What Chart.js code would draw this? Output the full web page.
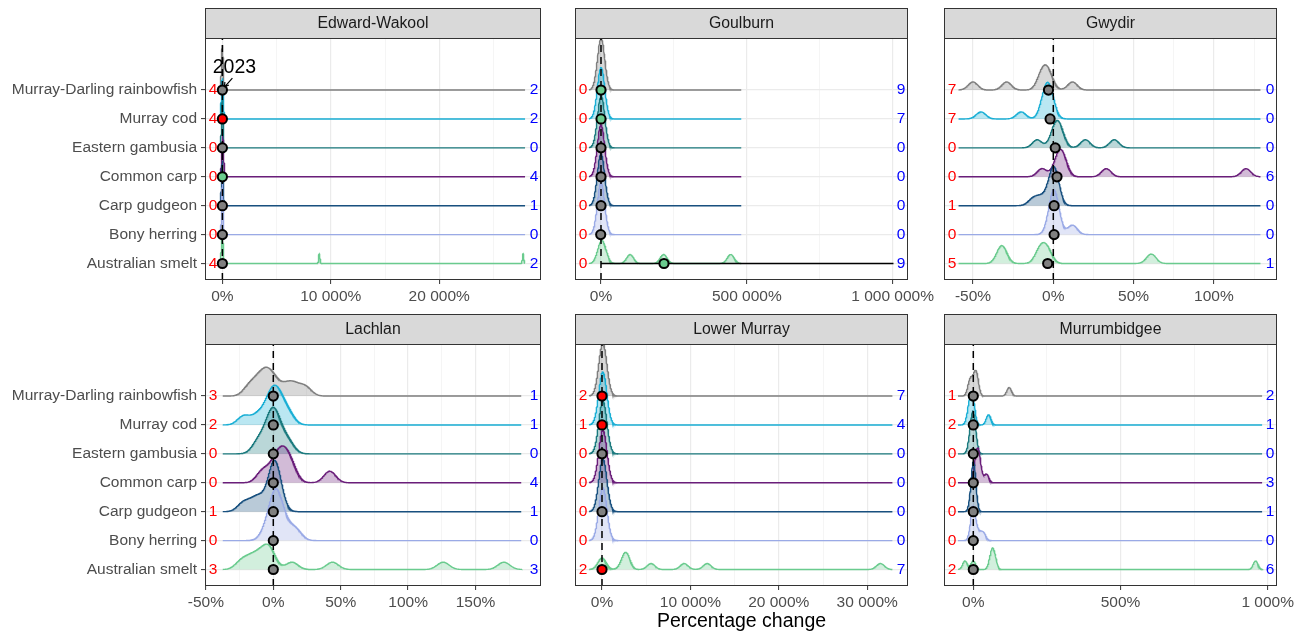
<!DOCTYPE html>
<html>
<head>
<meta charset="utf-8">
<script src="https://cdn.jsdelivr.net/npm/chart.js@4.4.0/dist/chart.umd.min.js"></script>
<style>
  body { margin: 0; background: #fff; }
  #wrap { position: relative; width: 1299px; height: 636px; }
  #wrap canvas { position: absolute; left: 0; top: 0; }
</style>
</head>
<body>
<div id="wrap"></div>
<script>
// species, top ridge first
const species = ["Murray-Darling rainbowfish", "Murray cod", "Eastern gambusia", "Common carp", "Carp gudgeon", "Bony herring", "Australian smelt"];
const rivers = ["Edward-Wakool", "Goulburn", "Gwydir", "Lachlan", "Lower Murray", "Murrumbidgee"];

// yearly percentage changes, one list per species (same order as species)
const edwardWakool = [
  [-80, -30, 0, 20, 60],
  [-90, -40, -10, 30, 70],
  [-60, -20, 10, 40],
  [-50, 0, 40, 100],
  [-70, -20, 20, 50],
  [-40, 0, 30],
  [-80, -30, 10, 50, 8940, 27740]
];
const goulburn = [
  [-5000, -1000, 0, 2000, 6000],
  [-5000, -2000, 0, 3000, 6000],
  [-5000, -1000, 1000, 3000, 5000],
  [-5000, -2000, 0, 2000, 5000],
  [-5000, -2000, 0, 2000, 5000],
  [-5000, -1000, 0, 2000, 5000],
  [-5000, 3000, 12000, 100000, 215000, 445000]
];
const gwydir = [
  [-50, -29, -8, -6, -4, -2, 12],
  [-45, -20, -6, -5, -4, -3, -2, -1],
  [-10, 0, 2, 3, 5, 20, 38],
  [-7, 2, 4, 5, 7, 33, 120],
  [-13, -9, -5, -1, 0, 0, 0, 1, 1, 2],
  [-1, 0, 0, 1, 2, 12],
  [-33, -31, -9, -6, -3, 61]
];
const lachlan = [
  [-18, -12, -8, -5, -2, 2, 10, 16, 24],
  [-22, -12, -5, -2, 0, 2, 4, 7, 12],
  [-12, -7, -3, -1, 0, 1, 3, 7, 12],
  [-8, 0, 4, 7, 10, 14, 42],
  [-22, -14, -9, -1, 0, 1, 1, 2, 4],
  [-5, 0, 1, 2, 3, 5, 10, 17],
  [-24, -18, -13, -9, -5, -3, -1, 14, 44, 126, 171]
];
const lowerMurray = [
  [0, 50, 100, 150, 250],
  [0, 40, 100, 160, 240],
  [0, 60, 100, 150, 250],
  [0, 50, 120, 150, 250],
  [0, 50, 100, 170, 250],
  [0, 50, 100, 150, 260],
  [-100, 150, 2500, 2700, 2800, 5550, 9300, 11900, 31500]
];
const murrumbidgee = [
  [-12, -8, 6, 9, 12, 122],
  [-15, -8, -4, 0, 52],
  [-10, -4, -1, 2, 5],
  [6, 12, 15, 18, 22, 45],
  [-3, 0, 1, 3],
  [-5, -2, 0, 2, 4, 20, 35],
  [-28, 0, 60, 66, 72, 959]
];
const riverSamples = [edwardWakool, goulburn, gwydir, lachlan, lowerMurray, murrumbidgee];
const bandwidths = [60, 12000, 3, 4.5, 450, 8];

// 2023 change and its status: n = no change, d = decline, u = increase
const change2023 = [
  [0, 0, 0, 0, 0, 0, 0],
  [0, 0, 0, 0, 0, -1000, 216000],
  [-3, -2, 1.2, 2.3, 0.5, 0.5, -3.5],
  [0, 0, 0, 0, 0, 0, 0],
  [0, 0, 0, null, 0, null, 0],
  [0, 0, 0, 0, 0, 0, 0]
];
const status2023 = [
  ["n", "d", "n", "u", "n", "n", "n"],
  ["u", "u", "n", "n", "n", "n", "u"],
  ["n", "n", "n", "n", "n", "n", "n"],
  ["n", "n", "n", "n", "n", "n", "n"],
  ["d", "d", "n", null, "n", null, "d"],
  ["n", "n", "n", "n", "n", "n", "n"]
];
const goulburnSmeltRange = [0, 1003000];

// counts shown at the left (red) and right (blue) of each ridge
const leftCounts = [
  [4, 4, 0, 0, 0, 0, 4],
  [0, 0, 0, 0, 0, 0, 0],
  [7, 7, 0, 0, 1, 0, 5],
  [3, 2, 0, 0, 1, 0, 3],
  [2, 1, 0, 0, 0, 0, 2],
  [1, 2, 0, 0, 0, 0, 2]
];
const rightCounts = [
  [2, 2, 0, 4, 1, 0, 2],
  [9, 7, 0, 0, 0, 0, 9],
  [0, 0, 0, 6, 0, 0, 1],
  [1, 1, 0, 4, 1, 0, 3],
  [7, 4, 0, 0, 0, 0, 7],
  [2, 1, 0, 3, 1, 0, 6]
];

// x tick labels and axis limits per panel
const xTicks = [
  [0, 10000, 20000],
  [0, 500000, 1000000],
  [-50, 0, 50, 100],
  [-50, 0, 50, 100, 150],
  [0, 10000, 20000, 30000],
  [0, 500, 1000]
];
const xLimits = [
  [-1605, 29391],
  [-89163, 1052812],
  [-68.06, 139.3],
  [-50.67, 198.6],
  [-3054, 34615],
  [-99.5, 1031.6]
];

// layout
const W = 1299, H = 636;
const COLS = [[205, 541], [575, 908], [944, 1277]];
const ROWS = [[38, 280], [344, 586]];
const ridgeHeight = [1.8, 1.8, 1.55, 1.8, 1.83, 1.72];
const lineColours = ["#7F7F7F", "#1AAFD5", "#1B7A7E", "#6A1E7A", "#18507F", "#9AAAE6", "#6ACB8E"];
const fillColours = ["rgba(127,127,127,0.3)", "rgba(26,175,213,0.3)", "rgba(27,122,126,0.3)", "rgba(106,30,122,0.3)", "rgba(24,80,127,0.3)", "rgba(154,170,230,0.3)", "rgba(106,203,142,0.3)"];
const dotColours = { n: "#808080", d: "#FF0000", u: "#6ACB8E" };
const FONT = "'Liberation Sans', Arial, sans-serif";

Chart.defaults.font.family = FONT;

function pct(v) {
  const s = Math.abs(v).toString().replace(/\B(?=(\d{3})+(?!\d))/g, " ");
  return (v < 0 ? "-" : "") + s + "%";
}

// gaussian kernel density, unnormalised (scaled per panel afterwards)
function density(samples, bw, xs) {
  return xs.map(x => samples.reduce((s, v) => s + Math.exp(-0.5 * ((x - v) / bw) ** 2), 0) / samples.length);
}

function evalGrid(all, bw) {
  const lo = Math.min(...all) - 3 * bw, hi = Math.max(...all) + 3 * bw;
  const xs = [];
  for (let i = 0; i <= 400; i++) xs.push(lo + (hi - lo) * i / 400);
  all.forEach(v => {
    for (let k = -14; k <= 14; k++) {
      const x = v + k * bw / 4;
      if (x > lo && x < hi) xs.push(x);
    }
  });
  xs.sort((a, b) => a - b);
  return xs.filter((x, i) => i === 0 || x - xs[i - 1] > 1e-9);
}

const facetPlugin = {
  id: "facet",
  afterDraw(chart, args, opts) {
    const { ctx, chartArea: a, scales: { x, y } } = chart;
    const p = opts.panel;
    ctx.save();
    // strip
    ctx.fillStyle = "#D9D9D9";
    ctx.fillRect(a.left, a.top - 30, a.right - a.left, 30);
    ctx.strokeStyle = "#333333";
    ctx.lineWidth = 1;
    ctx.strokeRect(a.left + 0.5, a.top - 29.5, a.right - a.left - 1, 30);
    ctx.fillStyle = "#1A1A1A";
    ctx.font = "15.8px " + FONT;
    ctx.textAlign = "center";
    ctx.textBaseline = "middle";
    ctx.fillText(rivers[p], (a.left + a.right) / 2, a.top - 14.5);
    // counts
    ctx.font = "15.5px " + FONT;
    species.forEach((s, i) => {
      const py = y.getPixelForValue(7 - i);
      ctx.fillStyle = "#FF0000";
      ctx.fillText(String(leftCounts[p][i]), a.left + 8, py);
      ctx.fillStyle = "#0000FF";
      ctx.fillText(String(rightCounts[p][i]), a.right - 7, py);
    });
    // 2023 label
    if (p === 0) {
      const px = x.getPixelForValue(change2023[0][0]), py = y.getPixelForValue(7);
      ctx.fillStyle = "#000";
      ctx.font = "19.5px " + FONT;
      ctx.fillText("2023", px + 12, py - 22);
      ctx.strokeStyle = "#000";
      ctx.lineWidth = 1.2;
      ctx.beginPath();
      ctx.moveTo(px + 10, py - 12);
      ctx.lineTo(px + 2, py - 3);
      ctx.moveTo(px + 2, py - 3);
      ctx.lineTo(px + 2.5, py - 8);
      ctx.moveTo(px + 2, py - 3);
      ctx.lineTo(px + 6.5, py - 5);
      ctx.stroke();
    }
    // panel border
    ctx.strokeStyle = "#333333";
    ctx.lineWidth = 1;
    ctx.strokeRect(a.left + 0.5, a.top + 0.5, a.right - a.left - 1, a.bottom - a.top - 1);
    ctx.restore();
  }
};

const wrap = document.getElementById("wrap");

rivers.forEach((river, p) => {
  const col = p % 3, row = Math.floor(p / 3);
  const [left, right] = COLS[col];
  const [top, bottom] = ROWS[row];
  const axisH = row === 1 ? H - bottom : 30;

  const canvas = document.createElement("canvas");
  canvas.width = W;
  canvas.height = H;
  wrap.appendChild(canvas);

  const samples = riverSamples[p];
  const bw = bandwidths[p];
  const xs = evalGrid(samples.flat(), bw);
  const dens = samples.map(s => density(s, bw, xs));
  const peak = Math.max(...dens.map(d => Math.max(...d)));
  const k = ridgeHeight[p] / peak;

  const datasets = [];
  // 2023 points
  const pts = [], ptCols = [];
  species.forEach((s, i) => {
    if (change2023[p][i] === null) return;
    pts.push({ x: change2023[p][i], y: 7 - i });
    ptCols.push(dotColours[status2023[p][i]]);
  });
  datasets.push({
    data: pts, showLine: false, pointRadius: 4.6, pointBorderWidth: 2,
    pointBorderColor: "#000", pointBackgroundColor: ptCols, order: 0
  });
  // zero line
  datasets.push({
    data: [{ x: 0, y: 0.43 }, { x: 0, y: 8.8 }], borderColor: "#000", borderWidth: 1.5,
    borderDash: [7, 5], pointRadius: 0, order: 1
  });
  if (p === 1) {
    datasets.push({
      data: goulburnSmeltRange.map(v => ({ x: v, y: 1 })), borderColor: "#000",
      borderWidth: 1.5, pointRadius: 0, order: 2
    });
  }
  // ridges
  species.forEach((s, i) => {
    const base = 7 - i;
    datasets.push({
      data: xs.map((x, j) => ({ x: x, y: base + dens[i][j] * k })),
      borderColor: lineColours[i], backgroundColor: fillColours[i], borderWidth: 1.4,
      fill: { value: base }, pointRadius: 0, tension: 0, order: 10 + base
    });
  });

  const majors = new Set(xTicks[p]);
  const allTicks = [];
  xTicks[p].forEach((v, i, arr) => {
    allTicks.push(v);
    if (i < arr.length - 1) allTicks.push((v + arr[i + 1]) / 2);
  });
  const step = xTicks[p][1] - xTicks[p][0];
  const lastMinor = xTicks[p][xTicks[p].length - 1] + step / 2;
  if (lastMinor < xLimits[p][1]) allTicks.push(lastMinor);

  new Chart(canvas, {
    type: "line",
    data: { datasets },
    options: {
      responsive: false,
      animation: false,
      devicePixelRatio: 1,
      events: [],
      layout: { padding: { left: col === 0 ? 0 : left, right: W - right, top: top, bottom: H - bottom - axisH } },
      plugins: { legend: { display: false }, tooltip: { enabled: false }, facet: { panel: p } },
      scales: {
        x: {
          type: "linear", min: xLimits[p][0], max: xLimits[p][1], bounds: "data",
          afterBuildTicks: axis => { axis.ticks = allTicks.map(v => ({ value: v })); },
          afterFit: s => { s.height = axisH; s.paddingLeft = 0; s.paddingRight = 0; },
          border: { display: false },
          grid: {
            color: c => majors.has(c.tick.value) ? "#EBEBEB" : "#F3F3F3",
            lineWidth: c => majors.has(c.tick.value) ? 1.2 : 0.8,
            tickColor: c => majors.has(c.tick.value) ? "#333333" : "rgba(0,0,0,0)",
            tickLength: 4, tickWidth: 1
          },
          ticks: {
            autoSkip: false, maxRotation: 0, minRotation: 0, padding: 3,
            color: "#4D4D4D", font: { size: 15.5 },
            callback: v => majors.has(v) ? pct(v) : ""
          },
          title: {
            display: p === 4, text: "Percentage change", color: "#000",
            font: { size: 19.5 }, padding: { top: 0, bottom: 3 }
          }
        },
        y: {
          type: "linear", min: 0.43, max: 8.8, bounds: "data",
          afterBuildTicks: axis => { axis.ticks = [1, 2, 3, 4, 5, 6, 7].map(v => ({ value: v })); },
          afterFit: s => { s.width = col === 0 ? left : 0; s.paddingTop = 0; s.paddingBottom = 0; },
          border: { display: false },
          grid: {
            color: "#EBEBEB", lineWidth: 1.2, drawTicks: col === 0,
            tickColor: "#333333", tickLength: 4, tickWidth: 1
          },
          ticks: {
            display: col === 0, padding: 4, color: "#4D4D4D", font: { size: 15.5 },
            callback: v => species[7 - v]
          }
        }
      }
    },
    plugins: [facetPlugin]
  });
});
</script>
</body>
</html>
